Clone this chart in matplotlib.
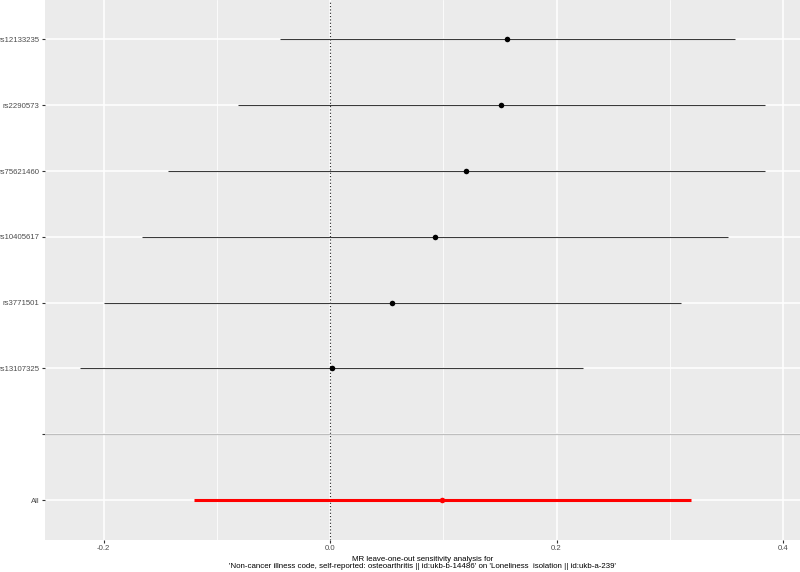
import matplotlib
matplotlib.use("Agg")
import matplotlib.pyplot as plt
import numpy as np

plt.rcParams['font.family'] = ['Liberation Sans', 'DejaVu Sans']

# leave-one-out estimates (bottom to top, "" = spacer row)
snps = ["All", "", "rs13107325", "rs3771501", "rs10405617", "rs75621460", "rs2290573", "rs12133235"]
b = [0.099, np.nan, 0.0015, 0.055, 0.0925, 0.1205, 0.151, 0.1565]
lo = [-0.1202, np.nan, -0.2208, -0.1993, -0.1657, -0.1428, -0.0812, -0.0442]
up = [0.3186, np.nan, 0.2237, 0.3096, 0.351, 0.384, 0.384, 0.3576]
is_total = [True, False, False, False, False, False, False, False]

x_ticks = [-0.2, 0.0, 0.2, 0.4]
x_minor = [-0.1, 0.1, 0.3]
xlabel = ("MR leave-one-out sensitivity analysis for\n"
          "'Non-cancer illness code, self-reported: osteoarthritis || id:ukb-b-14486' "
          "on 'Loneliness  isolation || id:ukb-a-239'")

fig = plt.figure(figsize=(8, 5.72), dpi=100)
ax = fig.add_axes([45 / 800, 32.5 / 572, 755 / 800, 539.5 / 572])
ax.set_facecolor('#EBEBEB')
for s in ax.spines.values():
    s.set_visible(False)

ypos = np.arange(1, len(snps) + 1)
ax.set_xlim(-0.2517, 0.415)
ax.set_ylim(0.4, len(snps) + 0.6)

ax.set_xticks(x_ticks)
ax.set_xticklabels([f"{t:.1f}" for t in x_ticks])
ax.set_xticks(x_minor, minor=True)
ax.set_yticks(ypos)
ax.set_yticklabels(snps)
ax.grid(which='major', color='white', lw=1.1, zorder=0)
ax.grid(which='minor', axis='x', color='white', lw=0.55, zorder=0)
ax.set_axisbelow(True)
ax.tick_params(axis='both', which='major', length=2.5, width=0.8, color='#333333',
               labelsize=5.6, labelcolor='#4D4D4D', pad=1.5)
ax.tick_params(axis='x', which='minor', length=0)

ax.axvline(0, color='#222222', lw=0.8, ls=(0, (1, 2)), zorder=1)

for y, bi, l, u, tot in zip(ypos, b, lo, up, is_total):
    if np.isnan(bi):
        continue
    col = 'red' if tot else 'black'
    ax.hlines(y, l, u, color=col if tot else '#3A3A3A', lw=2.2 if tot else 0.8, zorder=2)
    ax.plot(bi, y, 'o', color=col, ms=4, mew=0, zorder=3)

ax.axhline(snps.index("") + 1, color='#BEBEBE', lw=0.9, zorder=2)

ax.set_xlabel(xlabel, fontsize=5.7, labelpad=3, linespacing=1.0)

fig.savefig("out.png", dpi=100)
